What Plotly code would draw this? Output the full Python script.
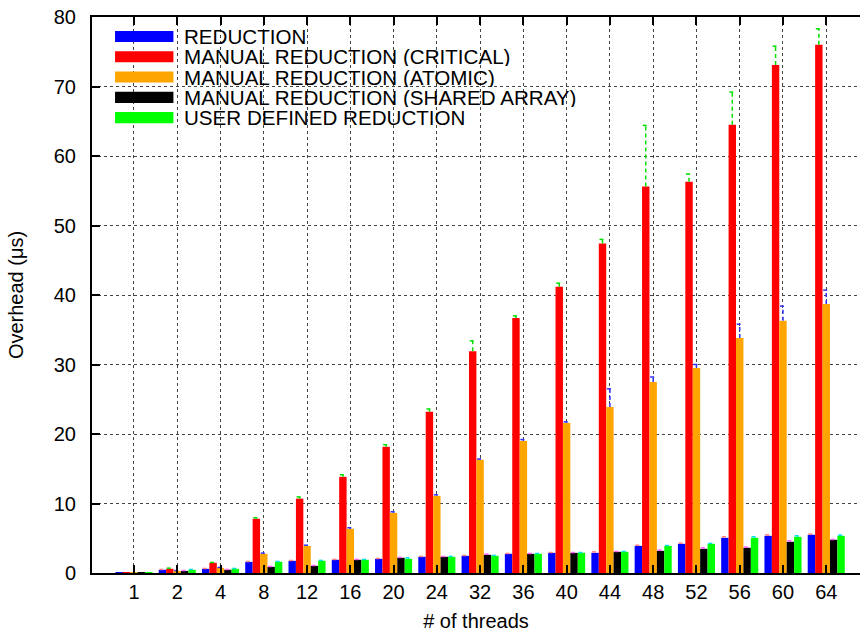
import plotly.graph_objects as go

threads = ["1", "2", "4", "8", "12", "16", "20", "24", "32", "36", "40", "44", "48", "52", "56", "60", "64"]

reduction = [0.03, 0.46, 0.6, 1.6, 1.75, 1.9, 2.04, 2.33, 2.47, 2.76, 2.9, 2.9, 3.9, 4.2, 5.06, 5.35, 5.5]
critical = [0.03, 0.6, 1.47, 7.8, 10.7, 13.84, 18.16, 23.2, 31.9, 36.7, 41.2, 47.4, 55.6, 56.3, 64.5, 73.1, 76.0]
atomic = [0.02, 0.3, 0.75, 2.76, 3.9, 6.36, 8.66, 11.1, 16.3, 19.0, 21.6, 23.9, 27.5, 29.5, 33.8, 36.3, 38.7]
shared = [0.02, 0.3, 0.46, 0.89, 1.03, 1.9, 2.19, 2.33, 2.62, 2.76, 2.9, 3.05, 3.19, 3.48, 3.63, 4.49, 4.78]
udr = [0.02, 0.46, 0.6, 1.61, 1.76, 1.9, 2.04, 2.33, 2.47, 2.76, 2.9, 3.05, 3.9, 4.2, 5.06, 5.2, 5.35]

reduction_err = [0, 0.05, 0.05, 0.05, 0.05, 0.05, 0.05, 0.05, 0.05, 0.05, 0.05, 0.15, 0.1, 0.1, 0.15, 0.15, 0.1]
critical_err = [0, 0.1, 0.05, 0.15, 0.25, 0.3, 0.3, 0.4, 1.5, 0.3, 0.5, 0.6, 8.8, 1.1, 4.7, 2.7, 2.3]
atomic_err = [0, 0.05, 0.05, 0.1, 0.1, 0.15, 0.15, 0.15, 0.1, 0.2, 0.15, 2.6, 0.7, 0.5, 2.0, 2.1, 2.0]
shared_err = [0, 0.05, 0.05, 0.05, 0.05, 0.05, 0.05, 0.05, 0.1, 0.05, 0.05, 0.05, 0.1, 0.15, 0.1, 0.15, 0.05]
udr_err = [0, 0.05, 0.05, 0.05, 0.05, 0.05, 0.15, 0.05, 0.05, 0.05, 0.05, 0.05, 0.05, 0.05, 0.15, 0.15, 0.1]

names = ["REDUCTION", "MANUAL REDUCTION (CRITICAL)", "MANUAL REDUCTION (ATOMIC)",
         "MANUAL REDUCTION (SHARED ARRAY)", "USER DEFINED REDUCTION"]
colors = ["#0000ff", "#ff0000", "#ffa500", "#000000", "#00ff00"]
err_colors = ["#ff8080", "#00e000", "#3030ff", "#ff60ff", "#00e0e0"]
series = [reduction, critical, atomic, shared, udr]
errors = [reduction_err, critical_err, atomic_err, shared_err, udr_err]

xi = list(range(len(threads)))
FONT = "Liberation Sans, Arial, Helvetica, sans-serif"
FS = 20
BARGAP = 0.143
nser = len(series)
bw = (1 - BARGAP) / nser

fig = go.Figure()
for k, (name, col, vals) in enumerate(zip(names, colors, series)):
    fig.add_trace(go.Bar(
        x=xi, y=vals, name=name, marker=dict(color=col, line=dict(width=0)),
        showlegend=False,
    ))

# dashed error bars (upper half), positioned at each grouped bar's centre
for k, (ecol, vals, errs) in enumerate(zip(err_colors, series, errors)):
    off = (k - (nser - 1) / 2) * bw
    ex, ey = [], []
    for x, v, e in zip(xi, vals, errs):
        if e <= 0:
            continue
        ex += [x + off, x + off, None, x + off - 0.07, x + off + 0.05, None]
        ey += [v, v + e, None, v + e, v + e, None]
    fig.add_trace(go.Scatter(x=ex, y=ey, mode="lines", showlegend=False, hoverinfo="skip",
                             line=dict(color=ecol, width=1.5, dash="4px,3px")))

# legend drawn in the top-left corner of the plot
for k, (name, col) in enumerate(zip(names, colors)):
    yc = 0.965 - k * 0.0365
    fig.add_shape(type="rect", xref="paper", yref="paper",
                  x0=0.030, x1=0.106, y0=yc - 0.010, y1=yc + 0.010,
                  fillcolor=col, line=dict(width=0))
    fig.add_annotation(xref="paper", yref="paper", x=0.119, y=yc, text=name,
                       showarrow=False, xanchor="left", yanchor="middle",
                       height=19, borderpad=0,
                       font=dict(family=FONT, size=20.6, color="black"))

fig.update_layout(
    width=860, height=632,
    margin=dict(l=92, r=0, t=17, b=59),
    paper_bgcolor="white", plot_bgcolor="white",
    barmode="group", bargap=BARGAP, bargroupgap=0,
    font=dict(family=FONT, size=FS, color="black"),
    showlegend=False,
)
fig.update_xaxes(
    range=[-0.97, 16.78], automargin=False,
    tickmode="array", tickvals=xi, ticktext=threads,
    ticks="inside", ticklen=8, tickwidth=1.5, tickcolor="black",
    showline=True, linecolor="black", linewidth=2, mirror="ticks",
    showgrid=True, gridcolor="#444444", griddash="dot", gridwidth=1,
    zeroline=False,
    title=dict(text="# of threads", font=dict(family=FONT, size=FS), standoff=12),
    ticklabelstandoff=0, ticklabeloverflow="allow",
)
fig.update_yaxes(
    range=[0, 80], dtick=10, tick0=0, automargin=False,
    ticks="inside", ticklen=8, tickwidth=1.5, tickcolor="black",
    showline=True, linecolor="black", linewidth=2, mirror=False,
    showgrid=True, gridcolor="#444444", griddash="dot", gridwidth=1,
    zeroline=False,
    title=dict(text="Overhead (μs)", font=dict(family=FONT, size=FS), standoff=25),
    ticklabelstandoff=10, ticklabeloverflow="allow",
)

fig.write_html("out.html", config={"displayModeBar": False},
               post_script="document.body.style.margin='0';")
